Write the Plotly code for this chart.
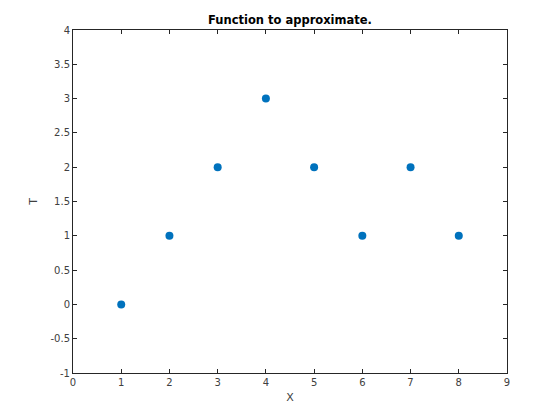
import plotly.graph_objects as go

X = [1, 2, 3, 4, 5, 6, 7, 8]
T = [0, 1, 2, 3, 2, 1, 2, 1]
x_ticks = [0, 1, 2, 3, 4, 5, 6, 7, 8, 9]
y_ticks = [-1, -0.5, 0, 0.5, 1, 1.5, 2, 2.5, 3, 3.5, 4]

fig = go.Figure()
fig.add_trace(go.Scatter(x=X, y=T, mode="markers",
                         marker=dict(color="#0072BD", size=8, line=dict(width=0))))

axis_common = dict(showgrid=False, zeroline=False, showline=True, linecolor="#262626",
                   linewidth=1, mirror="ticks", ticks="inside", ticklen=4,
                   tickcolor="#262626", tickfont=dict(family="DejaVu Sans", size=10, color="#404040"))

# page body has an 8px default margin; compensate
W, H = 552, 412
fig.update_layout(
    width=W, height=H,
    margin=dict(l=65, r=53, t=22, b=47, autoexpand=False),
    paper_bgcolor="white", plot_bgcolor="white",
    showlegend=False,
    title=dict(text="<b>Function to approximate.</b>", x=(65 + 499) / 2 / W, xanchor="center",
               y=1 - 12 / H, yanchor="middle", yref="container",
               font=dict(family="DejaVu Sans", size=11.5, color="black")),
    xaxis=dict(range=[0, 9], tickvals=x_ticks, ticktext=[str(v) for v in x_ticks],
               title=dict(text="X", standoff=6, font=dict(family="DejaVu Sans", size=11, color="#404040")),
               **axis_common),
    yaxis=dict(range=[-1, 4], tickvals=y_ticks, ticktext=[("%g" % v) for v in y_ticks],
               title=dict(text="T", standoff=10, font=dict(family="DejaVu Sans", size=11, color="#404040")),
               **axis_common),
)

fig.write_html("out.html")
